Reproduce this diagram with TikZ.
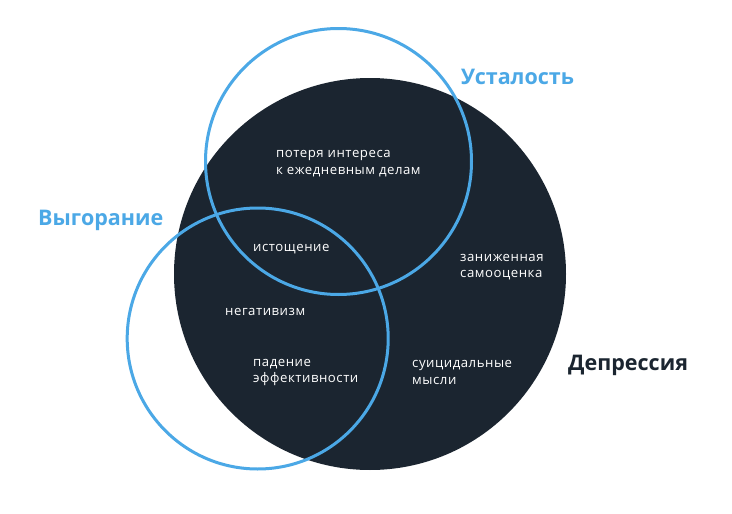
\documentclass[tikz,border=0pt]{standalone}
\usepackage{fontspec}
\setmainfont{Open Sans}
\newfontfamily\wideinner[LetterSpace=4.0]{Open Sans}
\definecolor{venblue}{HTML}{4BA8E6}
\definecolor{vendark}{HTML}{1B2530}
\begin{document}
\begin{tikzpicture}[x=1pt,y=-1pt,
  bluering/.style={draw=venblue,line width=3pt},
  title/.style={font=\fontsize{21.5}{25}\selectfont\bfseries,anchor=base west,inner sep=0pt},
  inner/.style={font=\wideinner\fontsize{13.2}{17}\selectfont,text=white,anchor=base west,inner sep=0pt}]
\useasboundingbox (0,0) rectangle (732,514);
\fill[white] (0,0) rectangle (732,514);
% depression
\fill[vendark] (370,274) circle[radius=196];
% fatigue
\draw[bluering] (338.5,161.5) circle[radius=133];
% burnout
\draw[bluering] (257.7,338.5) circle[radius=130.5];
% titles
\node[title,text=venblue] (tv) at (38,225.5) {Выгорание};
\node[title,text=venblue] (tu) at (461,84.5) {Усталость};
\node[title,text=vendark] (td) at (568,370.5) {Депрессия};
% inner labels
\node[inner] (a1) at (276,157) {потеря интереса};
\node[inner] (a2) at (276,174) {к ежедневным делам};
\node[inner] (b1) at (253,251) {истощение};
\node[inner] (c1) at (460,261) {заниженная};
\node[inner] (c2) at (460,277) {самооценка};
\node[inner] (d1) at (225,315) {негативизм};
\node[inner] (e1) at (253,366) {падение};
\node[inner] (e2) at (253,382) {эффективности};
\node[inner] (f1) at (412,367) {суицидальные};
\node[inner] (f2) at (412,384) {мысли};
\end{tikzpicture}
\end{document}
